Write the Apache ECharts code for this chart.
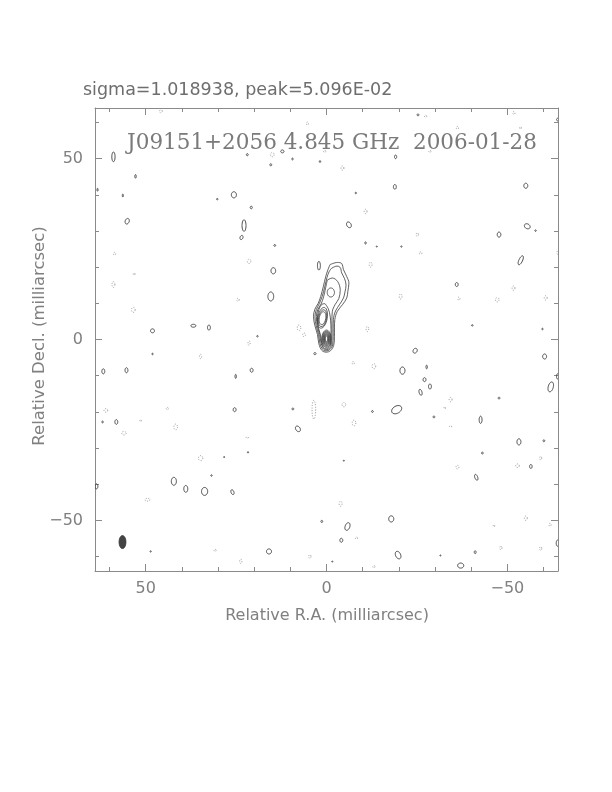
<!DOCTYPE html>
<html>
<head>
<meta charset="utf-8">
<script src="https://cdn.jsdelivr.net/npm/echarts@6/dist/echarts.min.js"></script>
<style>
html,body{margin:0;padding:0;background:#fff;}
#chart{width:612px;height:792px;}
</style>
</head>
<body>
<div id="chart"></div>
<script>
// ---------- text ----------
const statsText = 'sigma=1.018938, peak=5.096E-02';
const titleText = 'J09151+2056 4.845 GHz  2006-01-28';
const xAxisName = 'Relative R.A. (milliarcsec)';
const yAxisName = 'Relative Decl. (milliarcsec)';

// ---------- axes ----------
const axisRange = [-64, 64];
const minorTicks = [-60, -50, -40, -30, -20, -10, 0, 10, 20, 30, 40, 50, 60];
const majorTicks = [-50, 0, 50];
const tickLabels = [50, 0, -50];

// ---------- jet contours (closed polylines, [RA, Dec] mas) ----------
const jetLevel1 = [[-0.97,20.7],[-3.0,21.3],[-4.2,21.0],[-4.7,19.3],[-5.6,17.4],[-6.2,15.6],[-5.9,13.3],[-5.6,11.5],[-4.4,9.6],[-3.0,7.8],[-2.3,5.5],[-2.2,3.2],[-2.2,0.9],[-2.0,-1.6],[-1.1,-3.1],[0.1,-3.5],[1.3,-3.0],[2.1,-1.2],[2.5,1.4],[3.2,3.8],[3.6,6.4],[3.2,8.4],[2.3,10.0],[1.6,11.9],[0.86,14.7],[0.22,17.4],[-0.4,19.3],[-0.97,20.7]];
const jetLevel2 = [[-1.3,19.6],[-2.9,20.3],[-3.8,19.9],[-4.2,18.4],[-5.0,16.8],[-5.4,15.0],[-5.1,13.1],[-4.7,11.5],[-3.7,9.8],[-2.5,7.9],[-1.9,5.5],[-1.85,3.1],[-1.85,0.9],[-1.7,-1.5],[-0.9,-2.8],[0.1,-3.15],[1.1,-2.7],[1.8,-1.1],[2.2,1.4],[2.85,3.8],[3.2,6.3],[2.8,8.3],[2.0,9.9],[1.2,11.9],[0.5,14.5],[-0.15,17.2],[-0.7,18.7],[-1.3,19.6]];
const jetLevel3 = [[-0.2,16.4],[-1.6,17.0],[-3.1,16.0],[-3.8,13.6],[-3.4,11.3],[-2.4,9.7],[-1.6,7.7],[-1.5,5.2],[-1.5,2.8],[-1.5,0.6],[-1.4,-1.4],[-0.8,-2.5],[0.1,-2.85],[0.9,-2.4],[1.5,-1.0],[1.9,1.4],[2.55,3.8],[2.8,6.3],[2.4,8.3],[1.5,9.8],[0.8,11.8],[0.3,14.0],[-0.2,16.4]];
const jetLevel4 = [[0.4,9.9],[-0.5,8.5],[-1.0,6.5],[-1.2,4.2],[-1.25,2.0],[-1.2,0.0],[-1.1,-1.5],[-0.6,-2.3],[0.1,-2.6],[0.8,-2.2],[1.3,-1.0],[1.65,1.2],[2.3,3.6],[2.5,6.1],[2.1,8.3],[1.3,9.7],[0.4,9.9]];

// ---------- knot / core contours: [RA, Dec, rx, ry, tiltDeg] ----------
const knotContours = [
  [-1.2,13.0,1.0,1.25,0],
  [1.1,6.0,1.3,2.9,10],[1.1,5.9,1.1,2.35,10],[1.1,5.9,0.9,1.8,10]
];
const coreContours = [
  [0,0.2,1.3,2.4,0],[0,0.2,1.1,2.1,0],[0,0.2,0.92,1.85,0],[0,0.2,0.76,1.6,0],
  [0,0.2,0.6,1.35,0],[0,0.2,0.46,1.1,0],[0,0.2,0.32,0.8,0]
];

// ---------- noise contours, positive (solid): [RA, Dec, rx, ry, tiltDeg] ----------
const positiveContours = [
  [58.9,50.5,0.45,1.35,0],[21.9,51.1,0.25,0.3,0],[15.4,48.3,0.25,0.3,0],[12.2,52.0,0.45,0.4,0],
  [9.4,49.9,0.2,0.25,0],[1.8,49.2,0.2,0.25,0],[52.8,45.1,0.2,0.5,0],[56.3,39.8,0.15,0.4,0],
  [63.3,41.4,0.15,0.4,0],[25.6,40.0,0.7,0.85,0],[30.2,38.8,0.2,0.2,0],[20.8,36.5,0.3,0.35,0],
  [55.1,32.7,0.55,0.8,20],[22.8,31.5,0.55,1.6,0],[23.5,28.2,0.4,0.6,20],[14.3,26.0,0.25,0.25,0],
  [14.7,19.0,0.65,0.85,0],[15.4,11.9,0.8,1.25,0],[2.1,20.4,0.4,1.2,0],[48.1,2.4,0.55,0.55,0],
  [36.8,3.8,0.7,0.4,0],[32.5,3.3,0.4,0.7,0],[19.1,0.9,0.2,0.2,0],
  [-25.3,62.1,0.25,0.25,0],[-64,60.8,0.4,0.4,0],[-19.1,50.5,0.3,0.5,0],[-18.9,42.2,0.4,0.65,0],
  [-55.1,42.5,0.55,0.7,0],[-8.1,40.5,0.2,0.2,0],[-6.2,31.7,0.6,0.85,-30],[-55.5,31.3,0.85,0.65,30],
  [-57.8,30.1,0.2,0.2,0],[-47.7,29.0,0.5,0.7,0],[-10.8,26.7,0.2,0.3,0],[-13.9,25.7,0.15,0.15,0],
  [-20.7,25.7,0.15,0.2,0],[-53.7,21.9,0.5,1.35,25],[-36.0,15.2,0.4,0.55,0],[-40.3,3.9,0.2,0.2,0],
  [-59.7,2.9,0.2,0.2,0],
  [48.1,-4.0,0.2,0.2,0],[3.2,-3.9,0.3,0.3,0],[61.7,-8.8,0.4,0.7,0],[55.3,-8.5,0.4,0.7,0],
  [25.1,-10.2,0.2,0.55,0],[20.7,-8.5,0.4,0.55,0],[61.9,-22.8,0.2,0.25,0],[58.1,-22.8,0.4,0.65,0],
  [25.4,-19.4,0.4,0.55,0],[9.3,-19.2,0.25,0.25,0],[7.9,-24.7,0.6,0.85,-35],[21.7,-31.2,0.15,0.2,0],
  [28.3,-32.5,0.15,0.15,0],[31.8,-37.6,0.2,0.2,0],[42.2,-39.2,0.7,1.1,0],[38.9,-41.3,0.55,0.95,0],
  [33.7,-42.0,0.85,1.1,0],[26.0,-42.2,0.4,0.7,-20],[63.6,-40.6,0.4,0.7,0],[1.3,-50.3,0.25,0.3,0],
  [48.6,-58.6,0.15,0.2,0],[15.9,-58.6,0.7,0.7,0],
  [-24.5,-3.1,0.55,0.7,30],[-60.3,-4.7,0.55,0.7,0],[-64,-10.2,0.4,0.8,0],[-62.0,-13.1,0.7,1.4,15],
  [-21.0,-8.6,0.7,1.0,0],[-27.7,-7.6,0.2,0.5,0],[-27.1,-11.1,0.4,0.55,0],[-28.6,-13.0,0.4,0.7,0],
  [-26.0,-14.6,0.4,0.85,-15],[-12.7,-19.9,0.25,0.25,0],[-19.4,-19.4,1.5,1.0,-30],[-29.7,-21.4,0.25,0.25,0],
  [-42.6,-22.2,0.4,1.0,0],[-47.7,-16.2,0.25,0.25,0],[-53.2,-28.3,0.55,0.85,0],[-60.1,-28.0,0.25,0.25,0],
  [-56.5,-35.1,0.35,0.55,0],[-43.1,-31.4,0.25,0.25,0],[-4.8,-33.5,0.15,0.15,0],[-41.4,-38.1,0.4,0.85,-20],
  [-5.8,-51.7,0.65,1.1,20],[-4.1,-55.5,0.4,0.55,0],[-17.9,-49.6,0.7,0.85,0],[-19.8,-59.6,0.7,1.1,-25],
  [-31.5,-59.7,0.15,0.15,0],[-37.1,-62.5,0.85,0.7,0],[-41.1,-58.8,0.25,0.4,0],[-64,-56.3,0.5,0.9,0],
  [-1.6,-61.4,0.15,0.15,0]
];

// ---------- noise contours, negative (dotted): [RA, Dec, rx, ry, tiltDeg] ----------
const negativeContours = [
  [45.8,63.1,0.4,0.4,0],[15.0,51.1,0.5,0.6,0],[5.3,59.7,0.3,0.4,0],[58.6,23.7,0.3,0.4,0],
  [21.4,21.6,0.5,0.6,0],[53.2,18.1,0.25,0.3,0],[58.9,15.2,0.4,0.8,0],[24.5,11.0,0.35,0.4,0],
  [53.4,8.2,0.5,0.7,0],[7.6,3.2,0.5,0.8,0],[6.2,1.3,0.4,0.5,0],
  [-27.4,61.7,0.3,0.3,0],[-36.2,58.5,0.3,0.4,0],[-51.8,62.6,0.3,0.4,0],[-53.6,58.5,0.25,0.3,0],
  [-28.6,52.0,0.3,0.3,0],[-4.4,47.4,0.4,0.6,0],[-10.8,35.4,0.4,0.6,0],[-25.1,29.0,0.3,0.5,0],
  [-26.0,23.9,0.4,0.3,0],[-12.2,20.7,0.4,0.7,0],[-36.6,11.3,0.3,0.4,0],[-20.5,11.9,0.4,0.7,0],
  [-47.2,11.0,0.5,0.6,0],[-51.7,14.2,0.4,0.6,0],[-60.6,11.5,0.4,0.6,0],[-11.3,2.9,0.35,0.7,0],
  [-64,24.0,0.3,0.5,0],[0.5,52.0,0.3,0.3,0],
  [34.8,-4.7,0.3,0.6,0],[21.4,-1.0,0.3,0.6,0],[61.0,-19.6,0.5,0.5,0],[56.0,-25.9,0.6,0.5,0],
  [51.4,-22.4,0.2,0.3,0],[44.0,-19.1,0.3,0.3,0],[41.7,-24.2,0.5,0.8,0],[3.5,-19.4,0.5,2.6,0],
  [21.9,-27.1,0.3,0.2,0],[34.8,-32.8,0.6,0.7,0],[49.5,-44.3,0.7,0.4,0],[30.8,-58.3,0.3,0.3,0],
  [23.7,-61.3,0.3,0.6,0],[4.6,-60.0,0.3,0.5,0],
  [-7.4,-6.5,0.3,0.4,0],[-13.1,-7.4,0.5,0.7,0],[-4.8,-18.0,0.5,0.6,0],[-7.6,-23.1,0.5,0.8,0],
  [-34.3,-16.6,0.4,0.6,0],[-32.7,-18.9,0.2,0.3,0],[-34.3,-24.0,0.3,0.2,0],[-36.2,-35.3,0.4,0.5,0],
  [-52.8,-34.9,0.5,0.5,0],[-59.2,-32.8,0.3,0.5,0],[-3.9,-45.4,0.4,0.7,0],[-55.1,-49.4,0.4,0.6,0],
  [-61.8,-51.2,0.3,0.4,0],[-46.3,-51.5,0.2,0.3,0],[-48.2,-57.6,0.3,0.5,0],[-59.2,-57.8,0.3,0.5,0],
  [-8.3,-54.9,0.3,0.3,0],[-13.1,-62.8,0.3,0.3,0]
];

// ---------- restoring beam: [RA, Dec, rx, ry, tiltDeg] ----------
const beam = [[56.4,-56.0,0.95,1.8,0]];

// ---------- rendering ----------
const chart = echarts.init(document.getElementById('chart'), null, {renderer: 'canvas'});
const GRID = {left: 95, top: 108, width: 463, height: 463};
const AXIS_COLOR = '#8a8a8a';
const LABEL_COLOR = '#808080';
const CONTOUR_COLOR = '#3a3a3a';

function ellipseRenderer(style) {
  return function (params, api) {
    const ra = api.value(0), dec = api.value(1);
    const rx = api.value(2), ry = api.value(3), tilt = api.value(4) * Math.PI / 180;
    const c = api.coord([ra, dec]);
    const p = api.coord([ra + rx, dec + ry]);
    const sx = Math.abs(p[0] - c[0]), sy = Math.abs(p[1] - c[1]);
    const pts = [];
    const n = 28;
    for (let i = 0; i < n; i++) {
      const t = 2 * Math.PI * i / n;
      const dx = sx * Math.cos(t), dy = sy * Math.sin(t);
      pts.push([c[0] + dx * Math.cos(tilt) - dy * Math.sin(tilt),
                c[1] + dx * Math.sin(tilt) + dy * Math.cos(tilt)]);
    }
    return {type: 'polygon', shape: {points: pts}, style: Object.assign({}, style)};
  };
}

function ellipseSeries(data, style) {
  return {
    type: 'custom', xAxisIndex: 0, yAxisIndex: 0, clip: true,
    renderItem: ellipseRenderer(style), data: data,
    encode: {x: 0, y: 1}, silent: true, animation: false
  };
}

function lineContour(points) {
  return {
    type: 'line', xAxisIndex: 0, yAxisIndex: 0, data: points,
    symbol: 'none', smooth: 0.35, clip: true, silent: true, animation: false,
    lineStyle: {color: CONTOUR_COLOR, width: 0.8}
  };
}

const minusFmt = v => String(v).replace('-', '\u2212');

function baseAxis(pos, isX, showLabel) {
  return {
    type: 'value', gridIndex: 0, position: pos, min: axisRange[0], max: axisRange[1],
    inverse: isX,
    axisLine: {show: true, onZero: false, lineStyle: {color: AXIS_COLOR, width: 1}},
    axisTick: {show: true, inside: true, length: 4, customValues: minorTicks,
               lineStyle: {color: AXIS_COLOR, width: 1}},
    axisLabel: {show: showLabel, customValues: tickLabels, formatter: minusFmt,
                color: LABEL_COLOR, fontFamily: 'DejaVu Sans', fontSize: 16, margin: isX ? 10 : 12},
    splitLine: {show: false}
  };
}
function majorAxis(pos, isX) {
  return {
    type: 'value', gridIndex: 1, position: pos, min: axisRange[0], max: axisRange[1],
    inverse: isX,
    axisLine: {show: false, onZero: false},
    axisTick: {show: true, inside: true, length: 7, customValues: majorTicks,
               lineStyle: {color: AXIS_COLOR, width: 1}},
    axisLabel: {show: false},
    splitLine: {show: false}
  };
}

const option = {
  backgroundColor: '#ffffff',
  animation: false,
  grid: [Object.assign({}, GRID), Object.assign({}, GRID)],
  xAxis: [baseAxis('bottom', true, true), baseAxis('top', true, false),
          majorAxis('bottom', true), majorAxis('top', true)],
  yAxis: [baseAxis('left', false, true), baseAxis('right', false, false),
          majorAxis('left', false), majorAxis('right', false)],
  graphic: [
    {type: 'text', left: 83, top: 81, silent: true,
     style: {text: statsText, fill: '#6e6e6e', font: '17.5px "DejaVu Sans"'}},
    {type: 'text', x: 332, y: 143, silent: true,
     style: {text: titleText, fill: '#7a7a7a', font: '21.5px "DejaVu Serif"', align: 'center', verticalAlign: 'middle'}},
    {type: 'text', x: 327, y: 616, silent: true,
     style: {text: xAxisName, fill: LABEL_COLOR, font: '16px "DejaVu Sans"', align: 'center', verticalAlign: 'middle'}},
    {type: 'text', x: 40, y: 336, rotation: Math.PI / 2, silent: true,
     style: {text: yAxisName, fill: LABEL_COLOR, font: '16.5px "DejaVu Sans"', align: 'center', verticalAlign: 'middle'}}
  ],
  series: [
    lineContour(jetLevel1), lineContour(jetLevel2), lineContour(jetLevel3), lineContour(jetLevel4),
    ellipseSeries(knotContours, {stroke: CONTOUR_COLOR, fill: 'none', lineWidth: 0.8}),
    ellipseSeries(coreContours, {stroke: CONTOUR_COLOR, fill: 'none', lineWidth: 0.8}),
    ellipseSeries(positiveContours, {stroke: CONTOUR_COLOR, fill: 'none', lineWidth: 0.9}),
    ellipseSeries(negativeContours, {stroke: '#7e7e7e', fill: 'none', lineWidth: 0.8, lineDash: [1, 1.6]}),
    ellipseSeries(beam, {stroke: '#333', fill: '#444', lineWidth: 0.8})
  ]
};
chart.setOption(option);
</script>
</body>
</html>
